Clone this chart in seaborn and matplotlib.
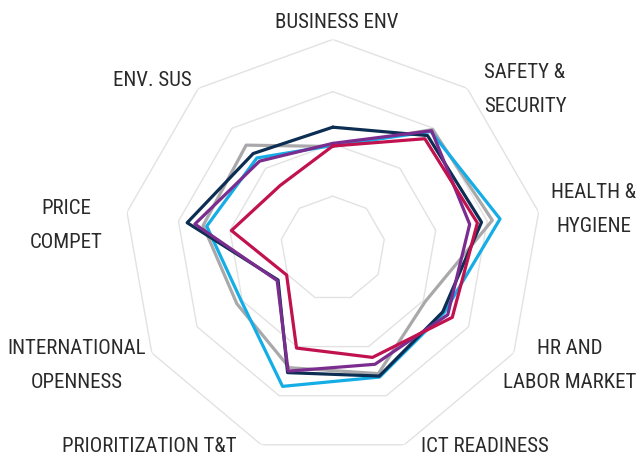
import numpy as np
import pandas as pd
import seaborn as sns
import matplotlib.pyplot as plt
from matplotlib import font_manager as fm

# pillars, clockwise from the top
categories = ["BUSINESS ENV", "SAFETY &\nSECURITY", "HEALTH &\nHYGIENE",
              "HR AND\nLABOR MARKET", "ICT READINESS", "PRIORITIZATION T&T",
              "INTERNATIONAL\nOPENNESS", "PRICE\nCOMPET", "ENV. SUS"]

# scores (centre of chart = 3, outer ring = 7)
gray_vals = [4.95, 5.97, 6.10, 5.04, 5.55, 5.43, 5.12, 5.52, 5.58]
cyan_vals = [4.97, 5.92, 6.25, 5.46, 5.62, 5.81, 5.02, 5.45, 5.26]
navy_vals = [5.32, 5.82, 5.89, 5.43, 5.60, 5.53, 4.21, 5.83, 5.37]
purple_vals = [5.01, 5.94, 5.66, 5.54, 5.36, 5.50, 4.23, 5.68, 5.18]
red_vals = [4.96, 5.74, 5.81, 5.64, 5.22, 5.03, 4.02, 4.97, 4.57]

series_names = ["gray", "cyan", "navy", "purple", "red"]
series_vals = [gray_vals, cyan_vals, navy_vals, purple_vals, red_vals]
ring_levels = [4, 5, 6, 7]
r_min, r_max = 3, 7

palette = {"gray": "#a9a9ab", "cyan": "#14ade6", "navy": "#0c2e52",
           "purple": "#7b2c8f", "red": "#c1124f"}

# label centres in pixels (x from left, y from top) of the 640x463 image
label_pos = [(337, 22), (525, 89), (594, 210), (570, 365), (485, 447),
             (149, 447), (77, 365), (66, 225), (152, 81)]


def have_font(fam):
    try:
        fm.findfont(fm.FontProperties(family=fam), fallback_to_default=False)
        return True
    except ValueError:
        return False


narrow = [f for f in ["Roboto Condensed", "Liberation Sans Narrow",
                      "Open Sans Condensed"] if have_font(f)]
if narrow:
    label_font, label_size = narrow[0], 15
else:
    label_font, label_size = "Roboto", 12.5

n = len(categories)
angles = np.linspace(0, 2 * np.pi, n, endpoint=False)
closed_angles = np.append(angles, angles[0])

rows = []
for name, vals in zip(series_names, series_vals):
    for a, v in zip(closed_angles, vals + vals[:1]):
        rows.append({"angle": a, "value": v, "series": name})
df = pd.DataFrame(rows)

sns.set_theme(style="white")
plt.rcParams["font.family"] = [label_font, "DejaVu Sans"]

W, H = 640, 463
fig = plt.figure(figsize=(W / 100, H / 100), dpi=100)
cx, cy, R = 332.8, 463 - 248.4, 209
ax = fig.add_axes([(cx - R) / W, (cy - R) / H, 2 * R / W, 2 * R / H],
                  projection="polar")
ax.set_theta_offset(np.pi / 2)
ax.set_theta_direction(-1)

for lvl in ring_levels:
    ax.plot(closed_angles, [lvl] * len(closed_angles), color="#e2e2e2",
            lw=1.0, zorder=1)

sns.lineplot(data=df, x="angle", y="value", hue="series",
             hue_order=series_names, palette=palette, sort=False,
             estimator=None, lw=2.3, legend=False, ax=ax)

ax.set_ylim(r_min, r_max)
ax.grid(False)
ax.spines["polar"].set_visible(False)
ax.set_xticks([])
ax.set_yticks([])
ax.set_xlabel("")
ax.set_ylabel("")
ax.patch.set_alpha(0)

for lab, (px, py) in zip(categories, label_pos):
    fig.text(px / W, 1 - py / H, lab, ha="center", va="center",
             fontsize=label_size, fontstretch="condensed", color="#2a2a2a",
             linespacing=2.0, multialignment="center")

fig.savefig("out.png", dpi=100)
